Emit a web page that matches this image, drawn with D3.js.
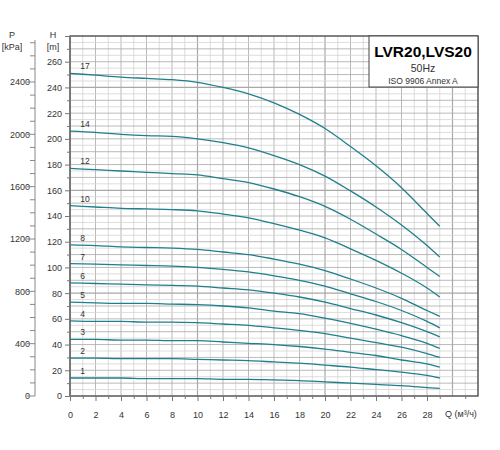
<!DOCTYPE html><html><head><meta charset="utf-8"><script src="https://cdn.jsdelivr.net/npm/d3@7"></script>
<style>body{margin:0;background:#fff}text{font-family:"Liberation Sans",Arial,sans-serif}</style></head><body><svg id="c" width="500" height="450"></svg><script>
const qPoints=[0,2,4,6,8,10,12,14,16,18,20,22,24,26,28,29];
const stageLabels=["17","14","12","10","8","7","6","5","4","3","2","1"];
const s17=[251,249.5,248,247,246,244,240,235,228,219,208,194,179,162,142,132];
const s14=[206,205,203.5,202.5,202,200,197,193,187,180,171,159.5,147,133,117,108];
const s12=[177,176,175,174,173,172,169,166,161,155,147.5,137.5,126,114,100,93];
const s10=[148,147,146,145.5,145,144,141.5,138.5,134,129,123,114.5,105.5,95.5,84,77];
const s8=[117.5,117,116,115.5,115,114,112,110,106.5,102.5,97.5,91,84,76,66.5,62];
const s7=[103,102.5,102,101.5,101,100,98.5,96.5,93.5,90,85.5,79.5,73.5,66.5,58,53];
const s6=[88,87.5,87,86.5,86,85.5,84,82.5,80,77,73,68,63,57,50,46];
const s5=[73,72.5,72,72,71.5,71,70,68.5,66,64,60.5,56.5,52,47,41,37];
const s4=[58.5,58,58,57.5,57.5,57,56,55,53,51,48.5,45,41.5,38,33,30];
const s3=[44,44,43.5,43.5,43,43,42,41,40,38.5,36.5,34,31.5,28,25,22.5];
const s2=[29.5,29.5,29,29,29,28.5,28,27.5,26.5,25.5,24,22.5,20.5,18.5,16,14];
const s1=[14,14,14,13.5,13.5,13.5,13,13,12.5,12,11,10,9,8,6.5,6];
const series=[s17,s14,s12,s10,s8,s7,s6,s5,s4,s3,s2,s1];
const xTicks=[0,2,4,6,8,10,12,14,16,18,20,22,24,26,28];
const hTicks=[0,20,40,60,80,100,120,140,160,180,200,220,240,260];
const pTicks=[0,400,800,1200,1600,2000,2400];

const svg=d3.select("#c");
const x=d3.scaleLinear().domain([0,32]).range([70,478]);
const y=d3.scaleLinear().domain([0,280]).range([396,36]);
const yp=d3.scaleLinear().domain([0,2400]).range([396,82]);
const g=svg.append("g");
d3.range(0,33,1).forEach(v=>g.append("line").attr("x1",x(v)).attr("x2",x(v)).attr("y1",y(0)).attr("y2",y(280))
  .attr("stroke",v%2?"#d4d4d4":"#a8a8a8").attr("stroke-width",v%10==0&&v>0?1.2:0.8));
d3.range(0,281,5).forEach(v=>g.append("line").attr("x1",x(0)).attr("x2",x(32)).attr("y1",y(v)).attr("y2",y(v))
  .attr("stroke",v%10?"#d4d4d4":"#a8a8a8").attr("stroke-width",v%80==0&&v>0?1.2:0.8));
g.append("rect").attr("x",x(0)).attr("y",y(280)).attr("width",x(32)-x(0)).attr("height",y(0)-y(280)).attr("fill","none").attr("stroke","#444").attr("stroke-width",1.2);
g.append("rect").attr("x",369).attr("y",36).attr("width",109).attr("height",51).attr("fill","#fff").attr("stroke","#444");
g.append("text").attr("x",423).attr("y",57).attr("text-anchor","middle").attr("font-size",15.5).attr("font-weight","bold").text("LVR20,LVS20");
g.append("text").attr("x",423).attr("y",72).attr("text-anchor","middle").attr("font-size",10.5).attr("fill","#333").text("50Hz");
g.append("text").attr("x",423).attr("y",84).attr("text-anchor","middle").attr("font-size",8.5).attr("fill","#333").text("ISO 9906 Annex A");
const xa=svg.append("g").attr("transform",`translate(0,${y(0)})`).call(d3.axisBottom(x).tickValues(xTicks).tickSize(5).tickFormat(d3.format("d")));
xa.select(".domain").remove();
xa.selectAll("text").attr("font-size",9).attr("fill","#333").attr("dy","1.6em");
xa.selectAll("line").attr("stroke","#777");
svg.append("g").attr("transform",`translate(0,${y(0)})`).call(d3.axisBottom(x).tickValues(d3.range(1,32,2)).tickSize(3).tickFormat("")).call(s=>{s.select(".domain").remove();s.selectAll("line").attr("stroke","#777")});
svg.append("text").attr("x",445).attr("y",417).attr("font-size",9).attr("fill","#333").text("Q (м³/ч)");
const ya=svg.append("g").attr("transform",`translate(${x(0)},0)`).call(d3.axisLeft(y).tickValues(hTicks).tickSize(5));
ya.select(".domain").attr("stroke","#777");ya.selectAll("text").attr("font-size",9).attr("fill","#333");ya.selectAll("line").attr("stroke","#777");
svg.append("g").attr("transform",`translate(${x(0)},0)`).call(d3.axisLeft(y).tickValues(d3.range(10,280,20)).tickSize(3).tickFormat("")).call(s=>{s.select(".domain").remove();s.selectAll("line").attr("stroke","#777")});
svg.append("line").attr("x1",x(0)).attr("x2",x(0)).attr("y1",36).attr("y2",y(0)).attr("stroke","#777");
const pa=svg.append("g").attr("transform","translate(36,0)").call(d3.axisRight(yp).tickValues(pTicks).tickSize(0).tickFormat(d3.format("d")));
pa.select(".domain").remove();pa.selectAll("text").attr("x",-6).attr("text-anchor","end").attr("font-size",9).attr("fill","#333");
svg.append("line").attr("x1",35).attr("x2",35).attr("y1",40).attr("y2",396).attr("stroke","#888");
d3.range(0,2701,100).forEach(v=>{const yy=yp(v);if(yy<40)return;svg.append("line").attr("x1",35).attr("x2",v%400?30:27).attr("y1",yy).attr("y2",yy).attr("stroke","#888");});
svg.append("text").attr("x",12).attr("y",38).attr("text-anchor","middle").attr("font-size",9).attr("fill","#333").text("P");
svg.append("text").attr("x",12).attr("y",50).attr("text-anchor","middle").attr("font-size",9).attr("fill","#333").text("[kPa]");
svg.append("text").attr("x",53).attr("y",38).attr("text-anchor","middle").attr("font-size",9).attr("fill","#333").text("H");
svg.append("text").attr("x",53).attr("y",50).attr("text-anchor","middle").attr("font-size",9).attr("fill","#333").text("[m]");
const line=d3.line().x((d,i)=>x(qPoints[i])).y(d=>y(d)).curve(d3.curveMonotoneX);
series.forEach((s,k)=>{
  svg.append("path").attr("d",line(s)).attr("fill","none").attr("stroke","#1f7f8c").attr("stroke-width",1.3);
  svg.append("text").attr("x",x(0.8)).attr("y",y(s[0])-4).attr("font-size",8.5).attr("fill","#333").text(stageLabels[k]);
});
</script></body></html>
